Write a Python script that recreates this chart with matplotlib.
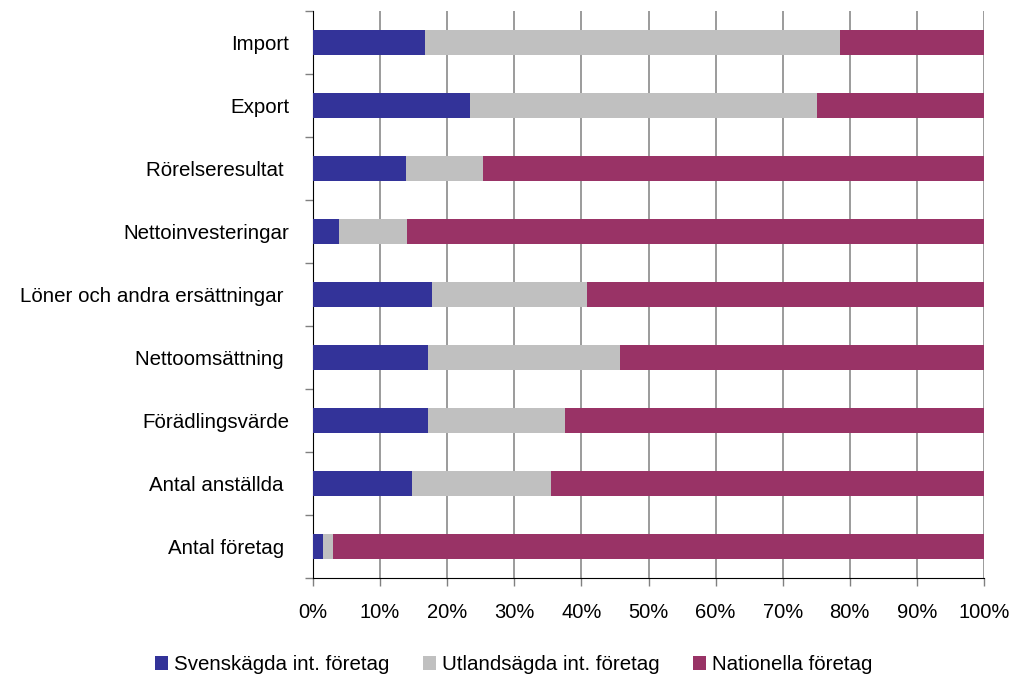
import matplotlib
matplotlib.use("Agg")
import matplotlib.pyplot as plt
import numpy as np

plt.rcParams['font.family'] = ['Liberation Sans', 'DejaVu Sans']

categories = [
    "Import",
    "Export",
    "Rörelseresultat ",
    "Nettoinvesteringar",
    "Löner och andra ersättningar ",
    "Nettoomsättning ",
    "Förädlingsvärde",
    "Antal anställda ",
    "Antal företag ",
]
svenskagda = [16.7, 23.4, 13.9, 3.9, 17.7, 17.1, 17.1, 14.8, 1.5]
utlandsagda = [61.8, 51.7, 11.4, 10.1, 23.1, 28.7, 20.5, 20.7, 1.5]
nationella = [21.5, 24.9, 74.7, 86.0, 59.2, 54.2, 62.4, 64.5, 97.0]
series_names = ["Svenskägda int. företag", "Utlandsägda int. företag", "Nationella företag"]
colors = ["#333399", "#C0C0C0", "#993366"]

fig = plt.figure(figsize=(10.11, 6.78), dpi=100)
ax = fig.add_axes([0.3096, 0.1475, 0.6637, 0.8363])

# Excel-style: first category at the top
y = np.arange(len(categories))[::-1]
left = np.zeros(len(categories))
for vals, name, col in zip([svenskagda, utlandsagda, nationella], series_names, colors):
    vals = np.array(vals)
    ax.barh(y, vals / 100, left=left, height=0.4, color=col, label=name, zorder=3)
    left += vals / 100

ax.set_xlim(0, 1)
ax.set_ylim(-0.5, len(categories) - 0.5)

ax.set_xticks(np.linspace(0, 1, 11))
ax.set_xticklabels([f"{int(round(v * 100))}%" for v in np.linspace(0, 1, 11)], fontsize=14.5)
ax.xaxis.grid(True, color="#808080", linewidth=1.1, zorder=0)

# category labels between the boundary ticks
ax.set_yticks(y)
ax.set_yticklabels(categories, fontsize=14.8)
ax.tick_params(axis="y", which="major", length=0, pad=17)
ax.set_yticks(np.arange(-0.5, len(categories), 1), minor=True)
ax.tick_params(axis="y", which="minor", length=6, width=1, color="#808080")
ax.tick_params(axis="x", length=6, width=1, color="#808080", pad=12)

for s in ["top", "right"]:
    ax.spines[s].set_visible(False)
ax.spines["left"].set_color("black")
ax.spines["bottom"].set_color("black")

fig.legend(
    loc="lower center",
    bbox_to_anchor=(0.508, -0.022),
    ncol=3,
    frameon=False,
    fontsize=14.8,
    handlelength=0.65,
    handleheight=0.65,
    handletextpad=0.3,
    columnspacing=1.6,
)

fig.savefig("out.png", dpi=100)
